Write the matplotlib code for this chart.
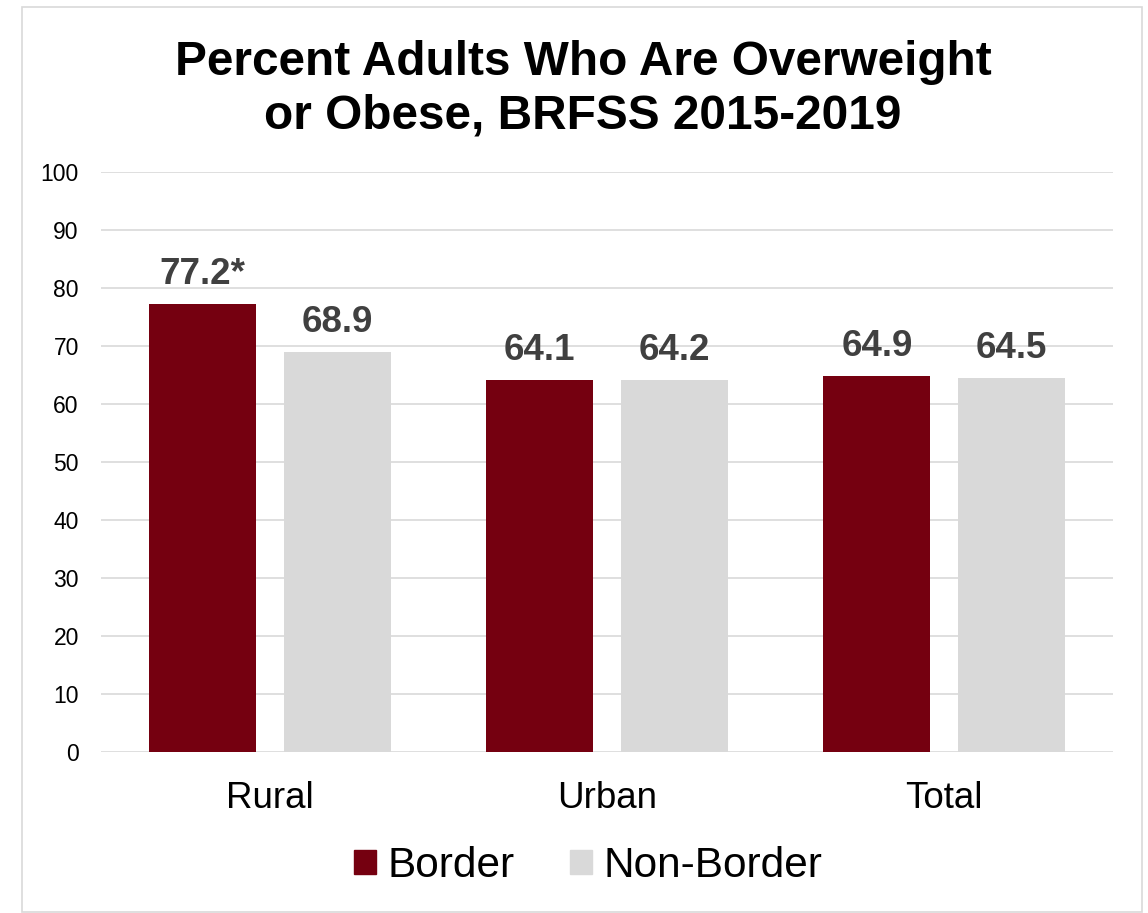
import matplotlib
matplotlib.use('Agg')
import matplotlib.pyplot as plt
from matplotlib.patches import Rectangle, Patch
import numpy as np

plt.rcParams['font.family'] = ['Liberation Sans', 'DejaVu Sans']

categories = ['Rural', 'Urban', 'Total']
border = [77.2, 64.1, 64.9]
non_border = [68.9, 64.2, 64.5]
border_flags = ['*', '', '']   # significance marker after the value
yticks = list(range(0, 101, 10))

RED = '#750010'
GRAY = '#d9d9d9'
LABEL = '#404040'

W, H = 1148, 913
fig = plt.figure(figsize=(W / 100, H / 100), dpi=100)

# light outer frame
fig.patches.append(Rectangle((22 / W, 1 - 912 / H), 1120 / W, 905 / H,
                             transform=fig.transFigure, fill=False,
                             edgecolor=GRAY, linewidth=1.2))

ax = fig.add_axes([101 / W, 1 - 752 / H, 1012 / W, 580 / H])

x = np.arange(len(categories))
bw = 0.317
off = 0.2
b1 = ax.bar(x - off, border, bw, color=RED, zorder=3)
b2 = ax.bar(x + off, non_border, bw, color=GRAY, zorder=3)

for rect, v, flag in zip(b1, border, border_flags):
    ax.annotate(f'{v:.1f}{flag}', (rect.get_x() + rect.get_width() / 2, v),
                xytext=(0, 14.4), textcoords='offset points',
                ha='center', va='baseline', fontsize=26.5,
                fontweight='bold', color=LABEL)
for rect, v in zip(b2, non_border):
    ax.annotate(f'{v:.1f}', (rect.get_x() + rect.get_width() / 2, v),
                xytext=(0, 14.4), textcoords='offset points',
                ha='center', va='baseline', fontsize=26.5,
                fontweight='bold', color=LABEL)

ax.set_xlim(-0.5, len(categories) - 0.5)
ax.set_ylim(0, 100)
ax.set_yticks(yticks)
ax.set_xticks(x)
ax.set_xticklabels(categories, fontsize=26.5)
ax.tick_params(axis='y', length=0, pad=16, labelsize=16.5)
ax.tick_params(axis='x', length=0, pad=21)
ax.yaxis.grid(True, color=GRAY, linewidth=1.2, zorder=0)
ax.set_axisbelow(True)
for s in ax.spines.values():
    s.set_visible(False)

# title, two centred lines
fig.text(583 / W, 1 - 75 / H, 'Percent Adults Who Are Overweight',
         ha='center', va='baseline', fontsize=34.4, fontweight='bold')
fig.text(583 / W, 1 - 128 / H, 'or Obese, BRFSS 2015-2019',
         ha='center', va='baseline', fontsize=34.4, fontweight='bold')

handles = [Patch(color=RED, label='Border'), Patch(color=GRAY, label='Non-Border')]
fig.legend(handles=handles, loc='center', bbox_to_anchor=(588 / W, 1 - 866 / H),
           ncol=2, frameon=False, fontsize=30.5, handlelength=0.52,
           handleheight=0.52, handletextpad=0.28, columnspacing=1.3)

fig.savefig('out.png', dpi=100, facecolor='white')
